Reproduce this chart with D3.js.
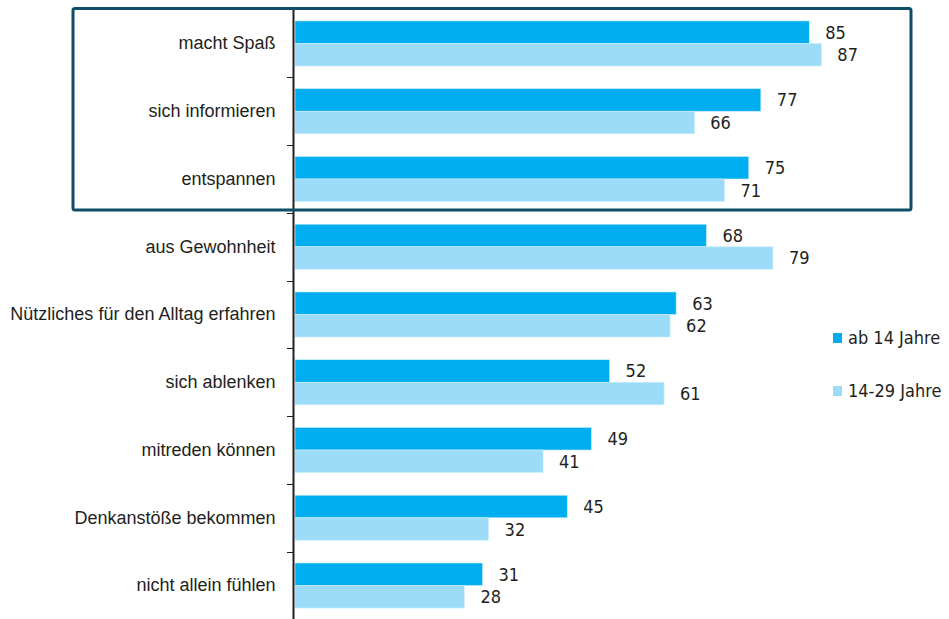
<!DOCTYPE html>
<html>
<head>
<meta charset="utf-8">
<script src="https://cdn.jsdelivr.net/npm/d3@7"></script>
<style>
  body { margin: 0; background: #fff; }
  svg { display: block; font-family: "Liberation Sans Narrow", "DejaVu Sans Condensed", "Liberation Sans", sans-serif; }
  .lbl { fill: #231f20; font-size: 18px; }
</style>
</head>
<body>
<svg id="chart" width="949" height="619"></svg>
<script>
var categories = ['macht Spaß', 'sich informieren', 'entspannen', 'aus Gewohnheit',
  'Nützliches für den Alltag erfahren', 'sich ablenken', 'mitreden können',
  'Denkanstöße bekommen', 'nicht allein fühlen'];
var ab14 = [85, 77, 75, 68, 63, 52, 49, 45, 31];
var jung = [87, 66, 71, 79, 62, 61, 41, 32, 28];
var seriesNames = ['ab 14 Jahre', '14-29 Jahre'];
var colors = ['#00aeef', '#9ddcf8'];

var svg = d3.select('#chart');

var y = d3.scaleBand().domain(categories).range([9.6, 619.4]).paddingInner(0.335).paddingOuter(0.1675);
var x = d3.scaleLinear().domain([0, 100]).range([295, 900]);
var sub = d3.scaleBand().domain([0, 1]).range([0, y.bandwidth()]);

var rows = categories.map((c, i) => ({ cat: c, vals: [ab14[i], jung[i]] }));

var g = svg.selectAll('g.row').data(rows).enter()
  .append('g').attr('class', 'row')
  .attr('transform', d => `translate(0,${y(d.cat)})`);

g.selectAll('rect').data(d => d.vals).enter()
  .append('rect')
  .attr('x', x(0))
  .attr('y', (d, i) => sub(i))
  .attr('width', d => x(d) - x(0))
  .attr('height', sub.bandwidth())
  .attr('fill', (d, i) => colors[i])
  .attr('stroke', '#c9eefc').attr('stroke-width', 0.6);

g.selectAll('text.val').data(d => d.vals).enter()
  .append('text').attr('class', 'lbl val')
  .attr('x', d => x(d) + 16)
  .attr('y', (d, i) => sub(i) + sub.bandwidth() / 2)
  .attr('dy', '0.36em')
  .text(d => d);

// category axis
var axis = d3.axisLeft(y).tickSize(0).tickPadding(18);
var ax = svg.append('g').attr('transform', 'translate(293.5,0)').call(axis);
ax.select('.domain').remove();
ax.selectAll('text').attr('class', 'lbl').attr('font-size', null).attr('font-family', null).attr('fill', null);

svg.append('line').attr('x1', 293.5).attr('x2', 293.5).attr('y1', 10).attr('y2', 619)
  .attr('stroke', '#231f20').attr('stroke-width', 2);

var bounds = categories.map(c => y(c) - y.step() * y.paddingInner() / 2).slice(1).concat([619]);
svg.selectAll('line.tick').data(bounds).enter()
  .append('line').attr('class', 'tick')
  .attr('x1', 287).attr('x2', 293).attr('y1', d => Math.round(d) + 0.5).attr('y2', d => Math.round(d) + 0.5)
  .attr('stroke', '#231f20').attr('stroke-width', 1);

// highlight box around top three
svg.append('rect')
  .attr('x', 73).attr('y', 8.5).attr('width', 838).attr('height', 201.5)
  .attr('fill', 'none').attr('stroke', '#0f4c66').attr('stroke-width', 3).attr('rx', 2);

// legend
var leg = svg.selectAll('g.leg').data(seriesNames).enter()
  .append('g').attr('class', 'leg')
  .attr('transform', (d, i) => `translate(833,${338 + i * 53})`);
leg.append('rect').attr('x', 0).attr('y', -5).attr('width', 9).attr('height', 10)
  .attr('fill', (d, i) => colors[i]);
leg.append('text').attr('class', 'lbl').attr('x', 15).attr('dy', '0.36em').text(d => d);
</script>
</body>
</html>
